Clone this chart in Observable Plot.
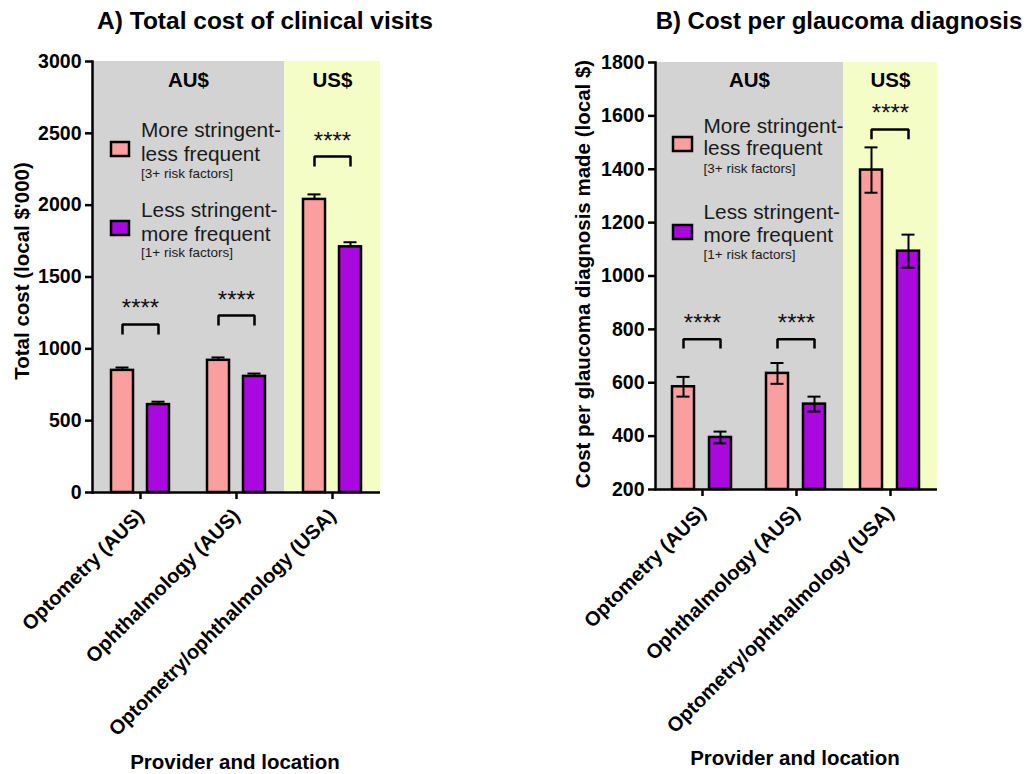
<!DOCTYPE html>
<html><head><meta charset="utf-8">
<script src="https://cdn.jsdelivr.net/npm/d3@7"></script>
<script src="https://cdn.jsdelivr.net/npm/@observablehq/plot@0.6"></script>
<style>
body{margin:0;background:#fff;}
#wrap{position:relative;width:1032px;height:774px;overflow:hidden;font-family:"Liberation Sans",Arial,sans-serif;}
#wrap > svg{position:absolute;}
</style></head><body><div id="wrap"></div>
<script>
// ---------- data ----------
const categories = ["Optometry (AUS)", "Ophthalmology (AUS)", "Optometry/ophthalmology (USA)"];
const seriesKeys = ["More stringent-less frequent", "Less stringent-more frequent"];
const seriesColors = ["#FA9FA0", "#A908DE"];
const legendLines = [["More stringent-", "less frequent", "[3+ risk factors]"], ["Less stringent-", "more frequent", "[1+ risk factors]"]];
const regionLabels = ["AU$", "AU$", "US$"];
const regionColors = ["#D3D3D3", "#D3D3D3", "#F3FDC5"];
const sigLabels = ["****", "****", "****"];

// Panel A: total cost (local $'000)
const totalCostMore = [850, 920, 2040];
const totalCostLess = [612, 808, 1710];
const totalCostErrMore = [20, 20, 35];
const totalCostErrLess = [20, 20, 32];
const totalBracketTop = [1170, 1232, 2338];
const totalBracketBottom = [1100, 1162, 2269];
const totalTicks = [0, 500, 1000, 1500, 2000, 2500, 3000];

// Panel B: cost per glaucoma diagnosis (local $)
const perDxMore = [585, 635, 1397];
const perDxLess = [395, 520, 1093];
const perDxErrMore = [37, 39, 85];
const perDxErrLess = [22, 28, 62];
const perDxBracketTop = [763, 763, 1549];
const perDxBracketBottom = [728, 728, 1512];
const perDxTicks = [200, 400, 600, 800, 1000, 1200, 1400, 1600, 1800];

const FONT = '"Liberation Sans", Arial, Helvetica, sans-serif';

function panel(o) {
  const rows = [];
  categories.forEach((c, i) => seriesKeys.forEach((s, j) => {
    const v = o.values[j][i], e = o.errs[j][i];
    rows.push({cat: c, series: s, color: seriesColors[j], value: v, lo: o.errBoth ? v - e : v, hi: v + e});
  }));
  const bg = categories.map((c, i) => ({cat: c, color: regionColors[i]}));
  const br = [];
  categories.forEach((c, i) => {
    br.push({cat: c, series: seriesKeys[0], y: o.brBot[i]},
            {cat: c, series: seriesKeys[0], y: o.brTop[i]},
            {cat: c, series: seriesKeys[1], y: o.brTop[i]},
            {cat: c, series: seriesKeys[1], y: o.brBot[i]});
  });
  const stars = categories.map((c, i) => ({cat: c, y: o.brTop[i], label: sigLabels[i]}));
  const auLabel = [{cat: categories[1], label: regionLabels[1]}];
  const usLabel = [{cat: categories[2], label: regionLabels[2]}];
  const yd = o.yDomain;
  return Plot.plot({
    width: o.width, height: o.height,
    marginLeft: o.mL, marginRight: o.mR, marginTop: o.mT, marginBottom: o.mB,
    style: {fontFamily: FONT, fontSize: "19.5px", fontWeight: "bold", color: "black", background: "transparent", overflow: "visible"},
    fx: {domain: categories, padding: 0, label: null},
    x: {domain: seriesKeys, paddingInner: 0.4, paddingOuter: o.xPadOuter, axis: null},
    y: {domain: yd, label: null},
    color: {type: "identity"},
    marks: [
      Plot.barY(bg, {fx: "cat", y1: yd[0], y2: yd[1], fill: "color"}),
      Plot.text(auLabel, {fx: "cat", text: "label", frameAnchor: "top-left", textAnchor: "middle", lineAnchor: "top", dy: o.regionDy, fontSize: 20.5, fontWeight: "bold"}),
      Plot.text(usLabel, {fx: "cat", text: "label", frameAnchor: "top", textAnchor: "middle", lineAnchor: "top", dy: o.regionDy, fontSize: 20.5, fontWeight: "bold"}),
      Plot.barY(rows, {fx: "cat", x: "series", y1: yd[0], y2: "value", fill: "color", stroke: "black", strokeWidth: 2.5}),
      Plot.ruleX(rows, {fx: "cat", x: "series", y1: "lo", y2: "hi", stroke: "black", strokeWidth: 2}),
      Plot.tickY(rows, {fx: "cat", x: "series", y: "hi", insetLeft: 4.5, insetRight: 4.5, stroke: "black", strokeWidth: 2}),
      o.errBoth ? Plot.tickY(rows, {fx: "cat", x: "series", y: "lo", insetLeft: 4.5, insetRight: 4.5, stroke: "black", strokeWidth: 2}) : null,
      Plot.line(br, {fx: "cat", x: "series", y: "y", z: "cat", stroke: "black", strokeWidth: 2.5, strokeLinejoin: "miter", strokeLinecap: "butt"}),
      Plot.text(stars, {fx: "cat", y: "y", text: "label", lineAnchor: "bottom", dy: -8, fontSize: 24, fontWeight: "normal", fill: "#111"}),
      Plot.ruleY([yd[0]], {stroke: "black", strokeWidth: 2.5}),
      Plot.frame({anchor: "left", facetAnchor: "left", stroke: "black", strokeWidth: 2.5}),
      Plot.axisY({ticks: o.ticks, tickFormat: "d", tickSize: 7, tickPadding: 4, strokeWidth: 2.5, label: null}),
      Plot.axisFx({anchor: "bottom", tickRotate: -45, tickSize: 7, tickPadding: 13, strokeWidth: 2.5, label: null, fontSize: 20})
    ]
  });
}

const wrap = document.getElementById("wrap");

const left = panel({
  values: [totalCostMore, totalCostLess], errs: [totalCostErrMore, totalCostErrLess], errBoth: false,
  brTop: totalBracketTop, brBot: totalBracketBottom, yDomain: [0, 3000], ticks: totalTicks,
  width: 440, height: 774, mL: 92, mR: 60, mT: 61, mB: 282, xPadOuter: 0.5, regionDy: 10.5
});
left.style.left = "0px"; left.style.top = "0px";
wrap.appendChild(left);

const right = panel({
  values: [perDxMore, perDxLess], errs: [perDxErrMore, perDxErrLess], errBoth: true,
  brTop: perDxBracketTop, brBot: perDxBracketBottom, yDomain: [200, 1800], ticks: perDxTicks,
  width: 512, height: 774, mL: 134, mR: 95, mT: 62, mB: 285, xPadOuter: 0.47, regionDy: 9.5
});
right.style.left = "520px"; right.style.top = "0px";
wrap.appendChild(right);

// ---------- overlay: titles, axis titles, legends ----------
const ov = d3.select(wrap).append("svg")
  .attr("width", 1032).attr("height", 774)
  .style("left", "0px").style("top", "0px").style("pointer-events", "none")
  .attr("font-family", FONT);

const texts = [
  {t: "A) Total cost of clinical visits", x: 265, y: 29, size: 24.5, w: "bold"},
  {t: "B) Cost per glaucoma diagnosis", x: 839, y: 28.5, size: 24, w: "bold"},
  {t: "Provider and location", x: 235, y: 769, size: 20.5, w: "bold"},
  {t: "Provider and location", x: 795, y: 765, size: 20.5, w: "bold"}
];
texts.forEach(d => ov.append("text").attr("x", d.x).attr("y", d.y).attr("text-anchor", "middle")
  .attr("font-size", d.size).attr("font-weight", d.w).attr("fill", "black").text(d.t));

[{t: "Total cost (local $'000)", x: 29, y: 271}, {t: "Cost per glaucoma diagnosis made (local $)", x: 590, y: 274}]
  .forEach(d => ov.append("text").attr("transform", `translate(${d.x},${d.y}) rotate(-90)`)
    .attr("text-anchor", "middle").attr("font-size", 20.5).attr("font-weight", "bold").attr("fill", "black").text(d.t));

const legends = [
  {sx: 111, sw: 18, tx: 141, items: [{sy: 142, base: [137, 161, 177.5]}, {sy: 221, base: [217, 240.5, 257]}]},
  {sx: 673, sw: 19, tx: 703.5, items: [{sy: 137, base: [132.5, 154.5, 172.5]}, {sy: 225, base: [219, 241.5, 258.5]}]}
];
legends.forEach(L => L.items.forEach((it, j) => {
  ov.append("rect").attr("x", L.sx).attr("y", it.sy).attr("width", L.sw).attr("height", 14)
    .attr("fill", seriesColors[j]).attr("stroke", "black").attr("stroke-width", 2.5);
  legendLines[j].forEach((line, k) => ov.append("text").attr("x", L.tx).attr("y", it.base[k])
    .attr("font-size", k < 2 ? 20.8 : 13.5).attr("fill", "#1a1a1a").text(line));
}));
</script></body></html>
